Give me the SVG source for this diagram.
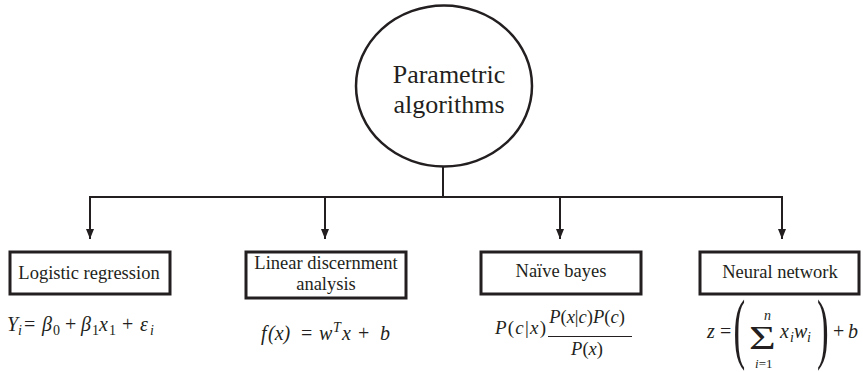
<svg xmlns="http://www.w3.org/2000/svg" width="863" height="372" viewBox="0 0 863 372" font-family="'Liberation Serif', 'DejaVu Serif', serif">
  <defs>
    <!-- downward-pointing filled arrowhead, tip at the line end -->
    <marker id="arrow" viewBox="0 0 8 10" refX="4" refY="10" markerWidth="8" markerHeight="10" markerUnits="userSpaceOnUse">
      <path d="M0,0 L8,0 L4,10 Z" fill="#231f20"/>
    </marker>
    <style>
      .lbl { font-family: "Liberation Serif", "DejaVu Serif", serif; fill: #231f20; }
      .box { fill: #fff; stroke: #231f20; stroke-width: 3; }
      .conn { fill: none; stroke: #231f20; stroke-width: 2; }
      .math { font-family: "Liberation Serif", "DejaVu Serif", serif; font-style: italic; fill: #231f20; }
      .up { font-style: normal; }
    </style>
  </defs>
  <rect width="863" height="372" fill="#fff"/>

  <!-- connectors: stem, bus and four drops -->
  <g id="connectors">
    <path class="conn" d="M443,166 V197"/>
    <path class="conn" d="M90,197 H782"/>
    <path class="conn" d="M90,196 V239" marker-end="url(#arrow)"/>
    <path class="conn" d="M325,197 V239" marker-end="url(#arrow)"/>
    <path class="conn" d="M560,197 V239" marker-end="url(#arrow)"/>
    <path class="conn" d="M782,196 V239" marker-end="url(#arrow)"/>
  </g>

  <!-- root node -->
  <g id="root">
    <ellipse cx="444" cy="86" rx="88" ry="80.5" fill="#fff" stroke="#231f20" stroke-width="2.5"/>
    <text class="lbl" font-size="26" text-anchor="middle" x="449" y="83">Parametric</text>
    <text class="lbl" font-size="26" text-anchor="middle" x="449" y="113">algorithms</text>
  </g>

  <!-- leaf: logistic regression -->
  <g id="logistic">
    <rect class="box" x="10" y="252" width="160" height="42"/>
    <text class="lbl" font-size="18.5" text-anchor="middle" x="89" y="279">Logistic regression</text>
    <text class="math" font-size="20" y="331"><tspan x="7">Y</tspan><tspan font-size="14" x="18" y="335">i</tspan><tspan class="up" x="24" y="331">=</tspan><tspan x="42">β</tspan><tspan class="up" font-size="14" x="53" y="335">0</tspan><tspan class="up" x="65" y="331">+</tspan><tspan x="81">β</tspan><tspan class="up" font-size="14" x="92" y="335">1</tspan><tspan x="99" y="331">x</tspan><tspan class="up" font-size="14" x="109" y="335">1</tspan><tspan class="up" x="122" y="331">+</tspan><tspan x="140">ε</tspan><tspan font-size="14" x="150" y="335">i</tspan></text>
  </g>

  <!-- leaf: linear discernment analysis -->
  <g id="lda">
    <rect class="box" x="246" y="252" width="160" height="46"/>
    <text class="lbl" font-size="18.5" text-anchor="middle" x="326" y="269">Linear discernment</text>
    <text class="lbl" font-size="18.5" text-anchor="middle" x="326" y="290">analysis</text>
    <text class="math" font-size="20" y="340"><tspan x="261">f</tspan><tspan x="268">(x)</tspan><tspan class="up" x="301">=</tspan><tspan x="319">w</tspan><tspan font-size="14" x="333" y="332">T</tspan><tspan x="342" y="340">x</tspan><tspan class="up" x="358">+</tspan><tspan x="380">b</tspan></text>
  </g>

  <!-- leaf: naive bayes -->
  <g id="naive-bayes">
    <rect class="box" x="481" y="252" width="160" height="42"/>
    <text class="lbl" font-size="18.5" text-anchor="middle" x="561" y="277">Naïve bayes</text>
    <text class="math" font-size="19" x="495" y="334" textLength="51">P<tspan class="up">(</tspan>c<tspan class="up">|</tspan>x<tspan class="up">)</tspan></text>
    <text class="math" font-size="18.5" text-anchor="middle" x="587" y="323">P<tspan class="up">(</tspan>x<tspan class="up">|</tspan>c<tspan class="up">)</tspan>P<tspan class="up">(</tspan>c<tspan class="up">)</tspan></text>
    <line x1="548" y1="336.5" x2="632" y2="336.5" stroke="#231f20" stroke-width="1.2"/>
    <text class="math" font-size="18.5" text-anchor="middle" x="587" y="355">P<tspan class="up">(</tspan>x<tspan class="up">)</tspan></text>
  </g>

  <!-- leaf: neural network -->
  <g id="neural-network">
    <rect class="box" x="700" y="252" width="159" height="42"/>
    <text class="lbl" font-size="18.5" text-anchor="middle" x="780" y="278">Neural network</text>
    <text class="math" font-size="20" x="707" y="338">z</text>
    <text class="math up" font-size="20" x="720" y="338">=</text>
    <text class="math up" font-size="78" transform="translate(733.5,354) scale(0.45,1)">(</text>
    <text class="math up" font-size="34" transform="translate(749,349) scale(1.35,1)">Σ</text>
    <text class="math" font-size="14" x="764" y="320">n</text>
    <text class="math" font-size="13" x="755" y="368">i<tspan class="up">=</tspan><tspan class="up">1</tspan></text>
    <text class="math" font-size="20" y="338"><tspan x="780">x</tspan><tspan font-size="14" x="790" y="342">i</tspan><tspan x="794" y="338">w</tspan><tspan font-size="14" x="807" y="342">i</tspan></text>
    <text class="math up" font-size="78" transform="translate(817,354) scale(0.45,1)">)</text>
    <text class="math" font-size="20" y="338"><tspan class="up" x="833">+</tspan><tspan x="848">b</tspan></text>
  </g>
</svg>
